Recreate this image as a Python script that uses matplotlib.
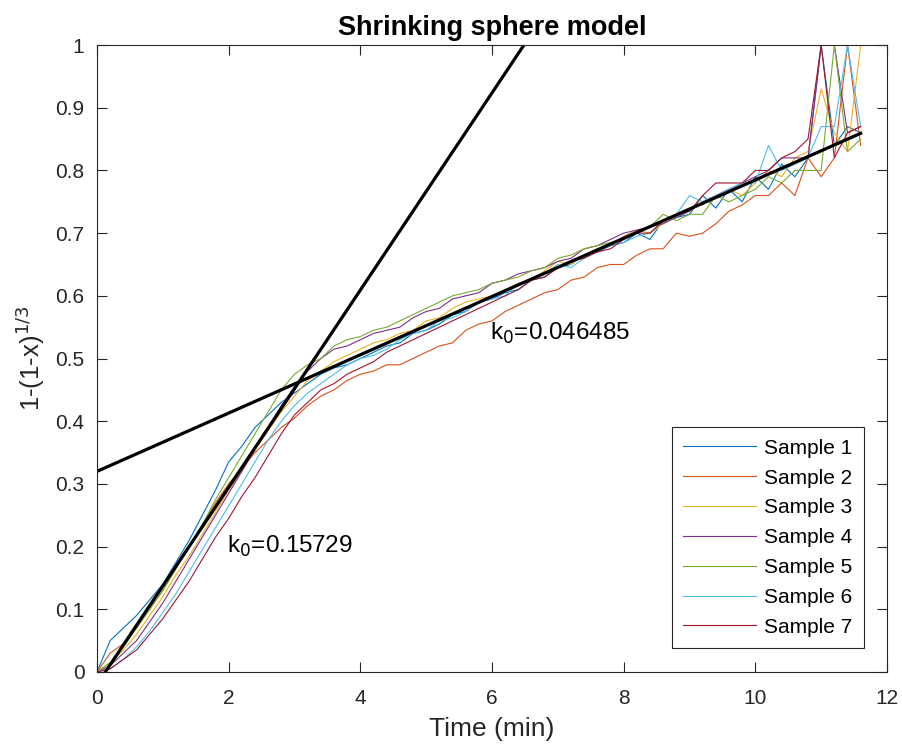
import numpy as np
import matplotlib
matplotlib.use('Agg')
import matplotlib.pyplot as plt

plt.rcParams['font.family'] = ['Liberation Sans', 'DejaVu Sans']

# time axis (min)
time_min = [0.0, 0.2, 0.4, 0.6, 0.8, 1.0, 1.2, 1.4, 1.6, 1.8, 2.0, 2.2, 2.4, 2.6, 2.8,
            3.0, 3.2, 3.4, 3.6, 3.8, 4.0, 4.2, 4.4, 4.6, 4.8, 5.0, 5.2, 5.4, 5.6, 5.8,
            6.0, 6.2, 6.4, 6.6, 6.8, 7.0, 7.2, 7.4, 7.6, 7.8, 8.0, 8.2, 8.4, 8.6, 8.8,
            9.0, 9.2, 9.4, 9.6, 9.8, 10.0, 10.2, 10.4, 10.6, 10.8, 11.0, 11.2, 11.4, 11.6]

# 1-(1-x)^(1/3) for each sample
s1 = [0, 0.05, 0.07, 0.09, 0.115, 0.14, 0.175, 0.21, 0.25, 0.29, 0.335, 0.36, 0.39, 0.41, 0.43,
      0.445, 0.46, 0.475, 0.485, 0.49, 0.5, 0.51, 0.52, 0.525, 0.54, 0.545, 0.555, 0.57, 0.575, 0.59,
      0.595, 0.605, 0.61, 0.625, 0.63, 0.645, 0.65, 0.665, 0.67, 0.68, 0.685, 0.7, 0.69, 0.72, 0.725,
      0.73, 0.76, 0.74, 0.77, 0.75, 0.79, 0.77, 0.81, 0.79, 0.82, 1.0, 0.84, 0.87, 0.86]
s2 = [0, 0.03, 0.045, 0.07, 0.1, 0.13, 0.165, 0.2, 0.235, 0.27, 0.3, 0.325, 0.35, 0.37, 0.39,
      0.405, 0.425, 0.44, 0.45, 0.465, 0.475, 0.48, 0.49, 0.49, 0.5, 0.51, 0.52, 0.525, 0.545, 0.555,
      0.56, 0.575, 0.585, 0.595, 0.605, 0.61, 0.625, 0.63, 0.645, 0.65, 0.65, 0.665, 0.675, 0.675, 0.7,
      0.695, 0.7, 0.715, 0.735, 0.745, 0.76, 0.76, 0.78, 0.76, 0.82, 0.79, 0.82, 1.0, 0.84]
s3 = [0, 0.015, 0.035, 0.06, 0.09, 0.12, 0.155, 0.185, 0.22, 0.255, 0.29, 0.32, 0.355, 0.385, 0.415,
      0.44, 0.465, 0.48, 0.495, 0.505, 0.515, 0.525, 0.53, 0.54, 0.545, 0.56, 0.565, 0.58, 0.59, 0.595,
      0.6, 0.61, 0.62, 0.625, 0.64, 0.655, 0.65, 0.665, 0.675, 0.68, 0.695, 0.705, 0.7, 0.715, 0.73,
      0.74, 0.745, 0.76, 0.77, 0.76, 0.78, 0.8, 0.79, 0.82, 0.83, 0.93, 0.86, 0.83, 1.0]
s4 = [0, 0.01, 0.03, 0.05, 0.08, 0.11, 0.145, 0.18, 0.215, 0.25, 0.285, 0.32, 0.355, 0.39, 0.425,
      0.455, 0.48, 0.5, 0.515, 0.52, 0.53, 0.54, 0.545, 0.55, 0.565, 0.575, 0.58, 0.595, 0.6, 0.605,
      0.62, 0.625, 0.635, 0.64, 0.645, 0.655, 0.66, 0.675, 0.68, 0.69, 0.7, 0.705, 0.71, 0.715, 0.725,
      0.735, 0.75, 0.76, 0.77, 0.78, 0.79, 0.8, 0.82, 0.82, 0.82, 1.0, 1.0, 0.86, 0.87]
s5 = [0, 0.015, 0.04, 0.07, 0.1, 0.13, 0.165, 0.2, 0.235, 0.275, 0.31, 0.345, 0.38, 0.415, 0.45,
      0.475, 0.49, 0.5, 0.52, 0.53, 0.535, 0.545, 0.55, 0.56, 0.57, 0.58, 0.59, 0.6, 0.605, 0.61,
      0.62, 0.625, 0.63, 0.64, 0.645, 0.66, 0.665, 0.675, 0.68, 0.685, 0.69, 0.7, 0.71, 0.73, 0.72,
      0.73, 0.73, 0.76, 0.75, 0.76, 0.77, 0.79, 0.78, 0.8, 0.8, 0.8, 1.0, 0.83, 0.85]
s6 = [0, 0.005, 0.02, 0.04, 0.065, 0.095, 0.125, 0.16, 0.195, 0.23, 0.265, 0.3, 0.335, 0.37, 0.4,
      0.425, 0.445, 0.46, 0.475, 0.49, 0.5, 0.505, 0.515, 0.53, 0.54, 0.545, 0.56, 0.565, 0.575, 0.59,
      0.595, 0.6, 0.62, 0.625, 0.635, 0.65, 0.645, 0.66, 0.675, 0.68, 0.685, 0.695, 0.7, 0.72, 0.73,
      0.76, 0.75, 0.76, 0.77, 0.78, 0.78, 0.84, 0.8, 0.81, 0.82, 0.87, 0.87, 1.0, 0.87]
s7 = [0, 0.005, 0.02, 0.035, 0.06, 0.085, 0.115, 0.145, 0.18, 0.215, 0.245, 0.28, 0.31, 0.345, 0.38,
      0.41, 0.43, 0.45, 0.46, 0.475, 0.485, 0.495, 0.51, 0.52, 0.53, 0.54, 0.55, 0.56, 0.57, 0.58,
      0.59, 0.6, 0.61, 0.625, 0.63, 0.645, 0.655, 0.66, 0.67, 0.675, 0.69, 0.7, 0.7, 0.72, 0.73,
      0.735, 0.76, 0.78, 0.78, 0.78, 0.8, 0.8, 0.82, 0.83, 0.85, 1.0, 0.82, 0.86, 0.87]

samples = [s1, s2, s3, s4, s5, s6, s7]
labels = ['Sample 1', 'Sample 2', 'Sample 3', 'Sample 4', 'Sample 5', 'Sample 6', 'Sample 7']
colors = ['#0072BD', '#D95319', '#EDB120', '#7E2F8E', '#77AC30', '#4DBEEE', '#A2142F']

# linear fits: early and late stage
k0 = [0.15729, 0.046485]
b0 = [-0.02, 0.32]
fit_t = [[0.127, 6.5], [0.0, 11.6]]
k_text_pos = [(1.98, 0.2), (5.97, 0.54)]

fig = plt.figure(figsize=(9.03, 7.51), dpi=100)
ax = fig.add_axes([0.1074, 0.1052, 0.8749, 0.8348])

for y, lab, c in zip(samples, labels, colors):
    ax.plot(time_min, y, color=c, lw=0.8, label=lab)

for k, b, tr, pos in zip(k0, b0, fit_t, k_text_pos):
    tt = np.array(tr)
    ax.plot(tt, k * tt + b, color='black', lw=2.3)
    ax.text(pos[0], pos[1], 'k$_0$=%g' % k, fontsize=17.5, va='center', ha='left')

ax.set_xlim(0, 12)
ax.set_ylim(0, 1)
ax.set_xticks(np.arange(0, 13, 2))
ax.set_yticks(np.arange(0, 1.01, 0.1))
ax.set_yticklabels(['0', '0.1', '0.2', '0.3', '0.4', '0.5', '0.6', '0.7', '0.8', '0.9', '1'])
ax.tick_params(direction='in', top=True, right=True, length=7, width=0.8,
               labelsize=15, colors='#262626')
ax.tick_params(axis='x', pad=12)
ax.tick_params(axis='y', pad=9)
for sp in ax.spines.values():
    sp.set_color('#262626')
    sp.set_linewidth(0.8)

ax.set_xlabel('Time (min)', fontsize=19, color='#262626', labelpad=7)
ax.set_ylabel('1-(1-x)$^{1/3}$', fontsize=18.5, color='#262626', labelpad=6)
ax.set_title('Shrinking sphere model', fontsize=19.5, fontweight='bold', pad=7)

leg = ax.legend(loc='lower right', bbox_to_anchor=(0.971, 0.038), borderaxespad=0,
                fontsize=15, handlelength=3.5, handletextpad=0.4, borderpad=0.55,
                fancybox=False, framealpha=1, edgecolor='#262626', labelspacing=0.52)
leg.get_frame().set_linewidth(0.8)

plt.savefig('out.png', dpi=100)
